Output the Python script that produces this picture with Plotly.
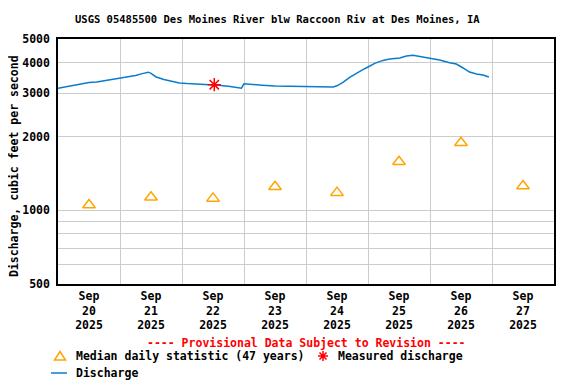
import plotly.graph_objects as go
import datetime as dt

# ---------------- data ----------------
discharge_hours = [0, 3, 6, 9, 12, 15, 18, 21, 24, 27, 30, 33, 35, 36, 38, 41, 44, 47,
                   50, 54, 58, 62, 66, 70, 71, 72, 75, 79, 84, 90, 96, 100, 104, 106.5,
                   108, 110.3, 112.9, 115.5, 118, 120, 122.6, 125.8, 128.4, 132.3, 134.9,
                   137.4, 140, 143.9, 147.7, 151.6, 154.2, 156.8, 159.3, 162, 164.5, 166.8]
discharge_cfs = [3150, 3190, 3240, 3290, 3320, 3340, 3380, 3420, 3460, 3510, 3550, 3620, 3660,
                 3620, 3500, 3420, 3370, 3310, 3290, 3280, 3265, 3240, 3205, 3160, 3150, 3280,
                 3270, 3240, 3215, 3205, 3200, 3175, 3170, 3185, 3220, 3325, 3485, 3632, 3748,
                 3843, 3976, 4089, 4145, 4182, 4261, 4287, 4235, 4182, 4104, 4000, 3952, 3808,
                 3665, 3600, 3565, 3500]

median_dates = ["2025-09-20 12:00", "2025-09-21 12:00", "2025-09-22 12:00", "2025-09-23 12:00",
                "2025-09-24 12:00", "2025-09-25 12:00", "2025-09-26 12:00", "2025-09-27 12:00"]
median_cfs = [1050, 1130, 1118, 1248, 1180, 1578, 1886, 1256]

measured_dates = ["2025-09-22 12:30"]
measured_cfs = [3255]

tick_dates = median_dates
tick_labels = ["Sep<br>20<br>2025", "Sep<br>21<br>2025", "Sep<br>22<br>2025", "Sep<br>23<br>2025",
               "Sep<br>24<br>2025", "Sep<br>25<br>2025", "Sep<br>26<br>2025", "Sep<br>27<br>2025"]
y_tickvals = [500, 600, 700, 800, 900, 1000, 2000, 3000, 4000, 5000]
y_ticktext = ["500", "", "", "", "", "1000", "2000", "3000", "4000", "5000"]

# ---------------- build ----------------
start = dt.datetime(2025, 9, 20)
discharge_times = [start + dt.timedelta(hours=h) for h in discharge_hours]

FONT = "DejaVu Sans Mono"
BLUE = "#0a7ccc"
ORANGE = "#FFA500"
RED = "#FF0000"

fig = go.Figure()
fig.add_trace(go.Scatter(x=discharge_times, y=discharge_cfs, mode="lines",
                         line=dict(color=BLUE, width=1.5), name="Discharge"))
fig.add_trace(go.Scatter(x=median_dates, y=median_cfs, mode="markers",
                         marker=dict(symbol="triangle-up-open", size=11,
                                     line=dict(color=ORANGE, width=1.5), color=ORANGE),
                         name="Median daily statistic (47 years)"))
fig.add_trace(go.Scatter(x=measured_dates, y=measured_cfs, mode="markers",
                         marker=dict(symbol="asterisk-open", size=11,
                                     line=dict(color=RED, width=1.5), color=RED),
                         name="Measured discharge"))

# page has an 8px body margin: figure occupies page pixels 8..576, 8..384
OFF = 8
W, H = 576 - OFF, 384 - OFF
L, R, T, B = 58 - OFF, 22, 39 - OFF, 100
pw, ph = W - L - R, H - T - B
def px(x): return (x - OFF - L) / pw
def py(y): return (H - B - (y - OFF)) / ph

fig.update_layout(
    width=W, height=H, margin=dict(l=L, r=R, t=T, b=B),
    paper_bgcolor="white", plot_bgcolor="white", showlegend=False,
    font=dict(family=FONT, size=11.5, color="black", weight="bold"),
)
fig.update_xaxes(
    type="date", range=["2025-09-20 00:00", "2025-09-28 00:00"],
    tickmode="array", tickvals=tick_dates, ticktext=tick_labels,
    showgrid=False, ticks="", showline=True, linecolor="black", linewidth=1.5, mirror=True,
    tickfont=dict(family=FONT, size=11.5, weight="bold"),
    minor=dict(dtick=86400000, tick0="2025-09-20", showgrid=True, gridcolor="#cccccc",
               gridwidth=1, ticks=""),
    zeroline=False,
)
fig.update_yaxes(
    type="log", range=[2.69897, 3.69897],
    tickmode="array", tickvals=y_tickvals, ticktext=y_ticktext,
    showgrid=True, gridcolor="#cccccc", gridwidth=1, ticks="",
    showline=True, linecolor="black", linewidth=1.5, mirror=True,
    tickfont=dict(family=FONT, size=11.5, weight="bold"), ticklabelstandoff=4,
    zeroline=False,
)

ann = []
ann.append(dict(text="USGS 05485500 Des Moines River blw Raccoon Riv at Des Moines, IA",
                x=px(277), y=py(19), xref="paper", yref="paper", showarrow=False,
                xanchor="center", yanchor="middle", font=dict(family=FONT, size=10.5, weight="bold")))
ann.append(dict(text="Discharge, cubic feet per second", textangle=-90,
                x=px(13.5), y=py(166.5), xref="paper", yref="paper", showarrow=False,
                xanchor="center", yanchor="middle", font=dict(family=FONT, size=11.5, weight="bold")))
ann.append(dict(text="---- Provisional Data Subject to Revision ----",
                x=px(306), y=py(343), xref="paper", yref="paper", showarrow=False,
                xanchor="center", yanchor="middle", font=dict(family=FONT, size=11.5, color=RED, weight="bold")))
ann.append(dict(text="Median daily statistic (47 years)", x=px(74), y=py(356), xref="paper", yref="paper",
                showarrow=False, xanchor="left", yanchor="middle", font=dict(family=FONT, size=11.5, weight="bold")))
ann.append(dict(text="Measured discharge", x=px(336), y=py(356), xref="paper", yref="paper",
                showarrow=False, xanchor="left", yanchor="middle", font=dict(family=FONT, size=11.5, weight="bold")))
ann.append(dict(text="Discharge", x=px(74), y=py(373), xref="paper", yref="paper",
                showarrow=False, xanchor="left", yanchor="middle", font=dict(family=FONT, size=11.5, weight="bold")))
fig.update_layout(annotations=ann)

shapes = []
shapes.append(dict(type="path", xref="paper", yref="paper", xsizemode="pixel", ysizemode="pixel",
                   xanchor=px(60), yanchor=py(356), path="M -5.5,-4 L 5.5,-4 L 0,4.5 Z",
                   line=dict(color=ORANGE, width=1.5)))
shapes.append(dict(type="path", xref="paper", yref="paper", xsizemode="pixel", ysizemode="pixel",
                   xanchor=px(323), yanchor=py(356),
                   path="M -5,0 L 5,0 M 0,-5 L 0,5 M -3.5,-3.5 L 3.5,3.5 M -3.5,3.5 L 3.5,-3.5",
                   line=dict(color=RED, width=1.5)))
shapes.append(dict(type="line", xref="paper", yref="paper", x0=px(51), x1=px(67), y0=py(373), y1=py(373),
                   line=dict(color=BLUE, width=1.5)))
fig.update_layout(shapes=shapes)

fig.write_html("out.html")
